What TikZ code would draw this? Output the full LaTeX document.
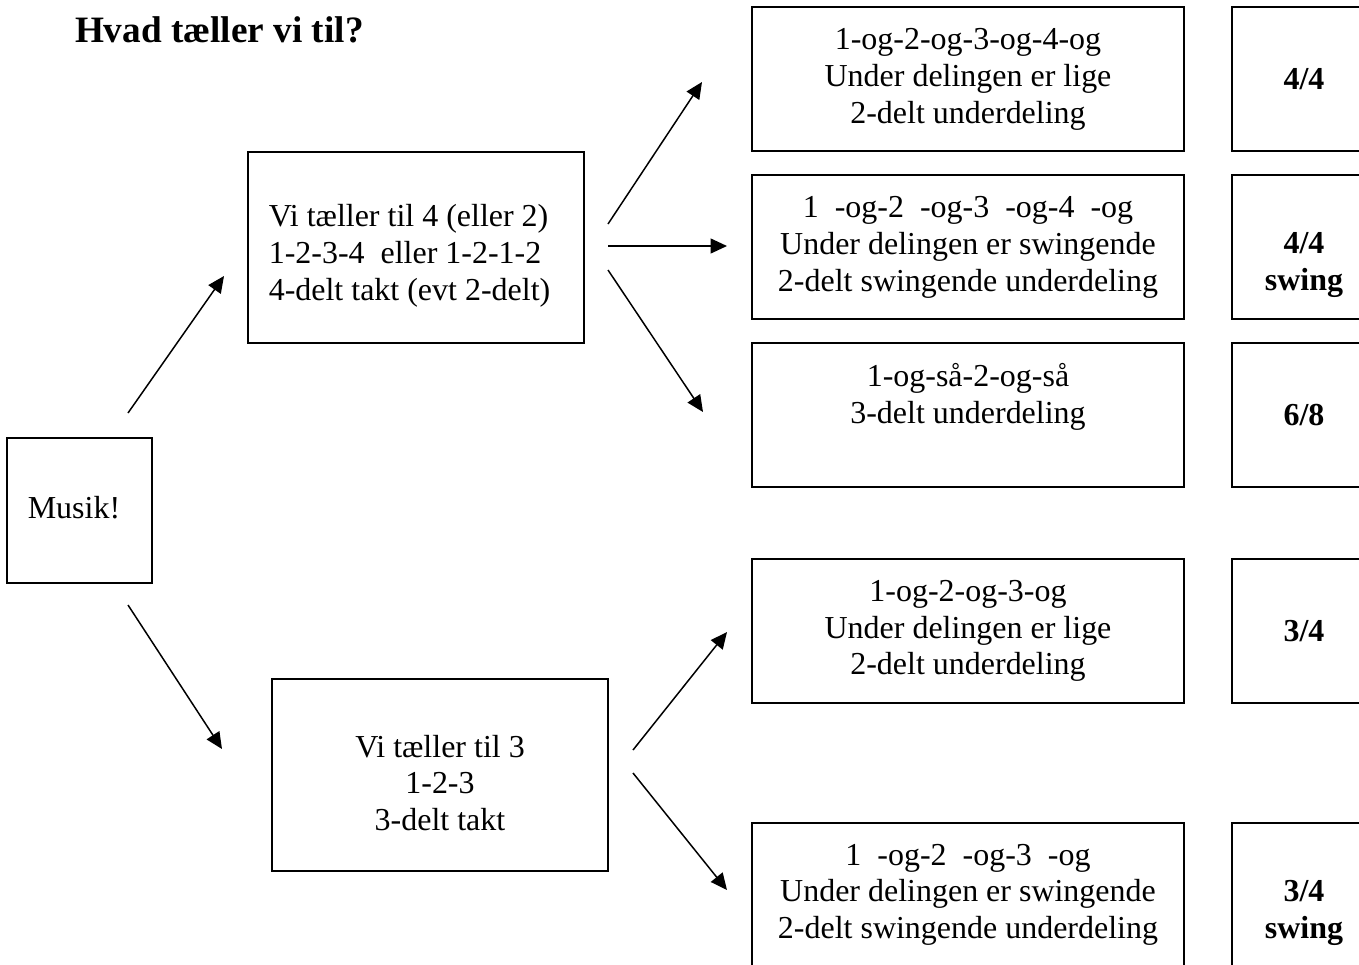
\documentclass[tikz,border=0pt]{standalone}
\usepackage{fontspec}
\setmainfont{Liberation Serif}
\usetikzlibrary{arrows.meta, positioning}

\begin{document}
\begin{tikzpicture}[x=0.02cm, y=-0.02cm, font=\fontsize{18.2}{21}\selectfont]
\tikzset{every node/.style={inner sep=1mm, outer sep=0mm}}

\tikzstyle{box}=[rectangle, draw=black, line width=1.1pt, align=center]
\tikzstyle{start}=[box, minimum width=2.9cm, minimum height=2.9cm]
\tikzstyle{count}=[box, minimum width=6.72cm, minimum height=3.83cm]
\tikzstyle{sub}=[box, minimum width=8.64cm, minimum height=2.88cm]
\tikzstyle{meter}=[box, minimum width=2.88cm, minimum height=2.88cm, font=\fontsize{18.2}{21}\selectfont\bfseries]
\tikzstyle{post}=[-{Triangle[length=0.33cm, width=0.3cm]}, line width=0.85pt]

\useasboundingbox (0,0) rectangle (1359,964);
\clip (0,0) rectangle (1359,964);

\node[anchor=base west, inner sep=0pt, font=\fontsize{21.2}{25}\selectfont\bfseries] (title) at (75,42) {Hvad tæller vi til?};

\node[start] (musik) at (79.5,510.5) {};
\node (musik text) at (74,508) {Musik!};

\node[count] (count four) at (416,247.5) {};
\node[align=left] (count four text) at (409.5,256) {Vi tæller til 4 (eller 2)\\1-2-3-4\ \ eller 1-2-1-2\\4-delt takt (evt 2-delt)};
\node[count] (count three) at (440,775) {};
\node[align=center] (count three text) at (440,783) {Vi tæller til 3\\1-2-3\\3-delt takt};

\node[sub] (even four) at (968,79) {1-og-2-og-3-og-4-og\\Under delingen er lige\\2-delt underdeling};
\node[sub, below=0.48cm of even four] (swing four) {1\ \ -og-2\ \ -og-3\ \ -og-4\ \ -og\\Under delingen er swingende\\2-delt swingende underdeling};
\node[sub, below=0.48cm of swing four] (triple four) {1-og-så-2-og-så\\3-delt underdeling\\\vphantom{1g}};
\node[sub, below=1.44cm of triple four] (even three) {1-og-2-og-3-og\\Under delingen er lige\\2-delt underdeling};
\node[sub, below=2.4cm of even three] (swing three) {1\ \ -og-2\ \ -og-3\ \ -og\\Under delingen er swingende\\2-delt swingende underdeling};

\node[meter, right=0.96cm of even four] (even four meter) {4/4};
\node[meter, right=0.96cm of swing four] (swing four meter) {\vphantom{4/4}\\4/4\\swing};
\node[meter, right=0.96cm of triple four] (triple four meter) {6/8};
\node[meter, right=0.96cm of even three] (even three meter) {3/4};
\node[meter, right=0.96cm of swing three] (swing three meter) {\vphantom{3/4}\\3/4\\swing};

% arrow ends
\coordinate (musik up) at (128,413);
\coordinate (musik down) at (128,605);
\coordinate (four in) at (224,276);
\coordinate (three in) at (222,749);
\coordinate (four up) at (608,224);
\coordinate (four mid) at (608,246);
\coordinate (four down) at (608,270);
\coordinate (three up) at (633,750);
\coordinate (three down) at (633,773);
\coordinate (even four in) at (702,82);
\coordinate (swing four in) at (727,246);
\coordinate (triple four in) at (703,412);
\coordinate (even three in) at (727,632);
\coordinate (swing three in) at (727,890);

\draw[post] (musik up) -- (four in);
\draw[post] (musik down) -- (three in);
\draw[post] (four up) -- (even four in);
\draw[post] (four mid) -- (swing four in);
\draw[post] (four down) -- (triple four in);
\draw[post] (three up) -- (even three in);
\draw[post] (three down) -- (swing three in);

\end{tikzpicture}
\end{document}
